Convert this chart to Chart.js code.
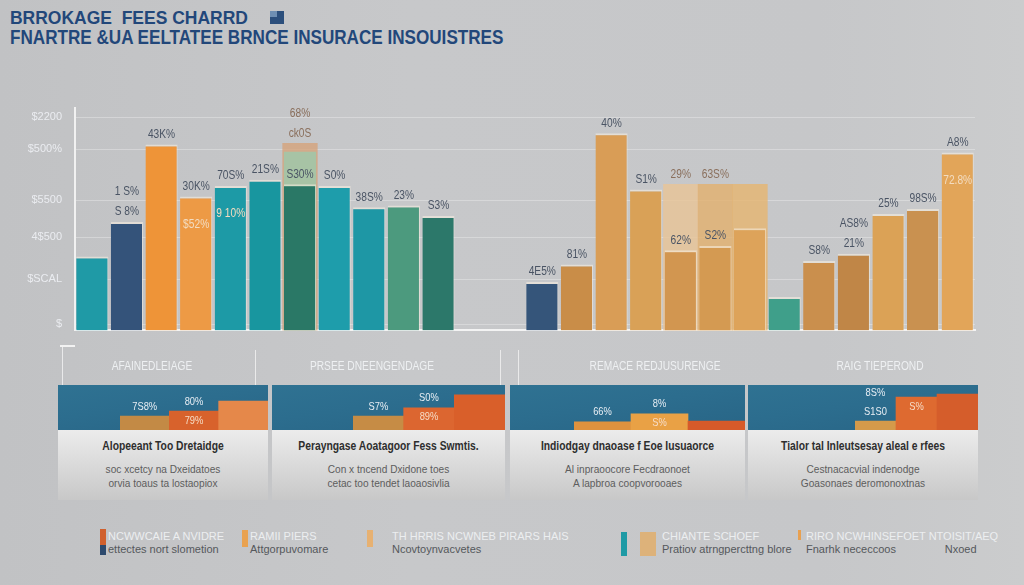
<!DOCTYPE html>
<html>
<head>
<meta charset="utf-8">
<script src="https://cdn.jsdelivr.net/npm/chart.js@4.4.0/dist/chart.umd.min.js"></script>
<style>
body{margin:0;width:1024px;height:585px;overflow:hidden;position:relative;
  background:linear-gradient(90deg,#c1c2c4 0%,#c7c8ca 40%,#c6c7c9 80%,#cbcccd 100%);
  font-family:"Liberation Sans",Arial,sans-serif}
.abs{position:absolute}
.ttl{left:10px;color:#22477a;white-space:nowrap;transform-origin:left top;font-weight:bold}
.vline{position:absolute;width:1px;background:rgba(240,240,240,.85)}
.sect{position:absolute;top:359px;color:#eef0f2;font-size:12px;white-space:nowrap;transform:translateX(-50%) scaleX(.85)}
.panel{position:absolute;top:385px;height:115px;background:linear-gradient(#eeeeee 40px,#e4e4e4 60px,#c8c8c8 115px)}
.phead{position:absolute;left:0;right:0;top:0;height:45px;background:linear-gradient(172deg,#2f7292 0%,#2c6d8e 45%,#286586 100%)}
.pbody{position:absolute;left:0;right:0;top:54px;text-align:center}
.pbody b{display:block;font-size:12px;color:#2e2e2e;margin-bottom:9px;transform:scaleX(.86)}
.pbody span{display:block;font-size:11.5px;color:#5d5d5d;line-height:14px;transform:scaleX(.88)}
.lg{position:absolute;font-size:11px;white-space:nowrap}
.lg .a{color:#eceef0}
.lg .b{color:#55585c;margin-top:1px}
</style>
</head>
<body>
<div class="abs ttl" style="top:7px;font-size:19px;transform:scaleX(.92)">BRROKAGE&nbsp; FEES CHARRD</div>
<div class="abs" style="left:270px;top:11px;width:14px;height:13px;background:#2c4f7c"></div>
<div class="abs" style="left:270px;top:11px;width:7px;height:6px;background:#6f8fb3"></div>
<div class="abs ttl" style="top:26px;font-size:20px;transform:scaleX(.855)">FNARTRE &amp;UA EELTATEE BRNCE INSURACE INSOUISTRES</div>

<canvas id="mainChart" class="abs" width="1000" height="262" style="left:0;top:88px"></canvas>

<div class="vline" style="left:62px;top:345px;height:40px"></div>
<div class="vline" style="left:255px;top:350px;height:35px"></div>
<div class="vline" style="left:500px;top:350px;height:35px"></div>
<div class="vline" style="left:518px;top:350px;height:35px"></div>
<div class="abs" style="left:60px;top:345px;width:15px;height:2px;background:#f2f2f2"></div>
<div class="sect" style="left:152px">AFAINEDLEIAGE</div>
<div class="sect" style="left:372px">PRSEE DNEENGENDAGE</div>
<div class="sect" style="left:655px">REMACE REDJUSURENGE</div>
<div class="sect" style="left:880px">RAIG TIEPEROND</div>

<div id="panels"></div>
<div id="legend"></div>

<script>
// main chart data
const slots = ['A1','A2','A3','A4','A5','A6','A7','A8','A9','A10','A11','','',
  'B1','B2','B3','B4','B5','B6','B7','B8','B9','B10','B11','B12','B13'];
const feeValues = [33.2,48.6,83.4,60.1,64.8,67.6,65.6,64.8,55.3,56.1,51.4,null,null,
  21.7,29.6,88.5,63.2,36.0,37.9,45.8,15.0,31.2,34.4,52.2,54.5,79.8];
const feeColors = ['#1f9aa6','#34537a','#ee9438','#ed9a45','#1d9aa6','#18969f','#2a7866','#1e9dab','#1e97a5','#4c9a7e','#2c786a',null,null,
  '#35557a','#c98d48','#d99d56','#d9a157','#d29650','#d49a52','#dda35a','#3f9f8a','#ca8f4d','#c08647','#dba256','#c99150','#e2a559'];
const backValues = [null,null,null,null,null,null,84.0,null,null,null,null,null,null,
  null,null,null,null,65.6,65.6,65.6,null,null,null,null,null,null];
const backValues2 = [null,null,null,null,null,null,80.2,null,null,null,null,null,null,
  null,null,null,null,null,null,null,null,null,null,null,null,null];
const topLabels = ['',['1 S%','S 8%'],'43K%','30K%','70S%','21S%','S30%','S0%','38S%','23%','S3%','','',
  '4E5%','81%','40%','S1%','62%','S2%','','','S8%',['AS8%','21%'],'25%','98S%','A8%'];
const backLabels = ['','','','','','',['68%','ck0S'],'','','','','','',
  '','','','','29%','63S%','','','','','','',''];
const innerLabels = ['','','','$52%','9 10%','','','','','','','','',
  '','','','','','','','','','','','','72.8%'];
const tickValues = [2.8,22.9,41.9,58.5,81.4,95.7];
const tickLabels = ['$','$SCAL','4$500','$5500','$500%','$2200'];

// small panels
const panelTitles = ['Alopeeant Too Dretaidge','Perayngase Aoatagoor Fess Swmtis.','Indiodgay dnaoase f Eoe Iusuaorce','Tialor tal Inleutsesay aleal e rfees'];
const panelLines = [['soc xcetcy na Dxeidatoes','orvia toaus ta lostaopiox'],
  ['Con x tncend Dxidone toes','cetac too tendet laoaosivlia'],
  ['Al inpraoocore Fecdraonoet','A lapbroa coopvorooaes'],
  ['Cestnacacvial indenodge','Goasonaes deromonoxtnas']];
const panelValues = [[31,42,64],[31,49,78],[18,36,20],[20,73,80]];
const panelColors = [['#c38a45','#d8622c','#e5884a'],['#c68c45','#dc6630','#d95f2a'],['#df923e','#e9a145','#d65a2a'],['#d49a4a','#de6a30','#d55d2b']];
const panelTop = [['7S8%','80%',''],['S7%','S0%',''],['66%','8%',''],[['8S%','S1S0'],'','']];
const panelInner = [['','79%',''],['','89%',''],['','S%',''],['','S%','']];

// legend
const legendNames = ['NCWWCAIE A NVIDRE','RAMII PIERS','TH HRRIS NCWNEB PIRARS HAIS','CHIANTE SCHOEF','RIRO NCWHINSEFOET NTOISIT/AEQ'];
const legendNotes = ['ettectes nort slometion','Attgorpuvomare','Ncovtoynvacvetes','Pratiov atrngpercttng blore','Fnarhk nececcoos \u00a0\u00a0\u00a0\u00a0\u00a0\u00a0\u00a0\u00a0\u00a0\u00a0\u00a0\u00a0\u00a0\u00a0 Nxoed'];

function textPlugin(tops, inners, backs, topColor, innerColor, size, innerGap){
  return {
    id:'barText',
    afterDatasetsDraw(chart){
      const c = chart.ctx;
      c.save();
      c.font = size + 'px "Liberation Sans",sans-serif';
      c.textAlign = 'center';
      c.textBaseline = 'bottom';
      const drawLines = (txt, x, y, col) => {
        const lines = Array.isArray(txt) ? txt : [txt];
        c.fillStyle = col;
        lines.slice().reverse().forEach((t, k) => {
          c.save(); c.translate(x, y - k * (size + 8)); c.scale(0.85, 1);
          c.fillText(t, 0, 0); c.restore();
        });
      };
      const m0 = chart.getDatasetMeta(0);
      m0.data.forEach((bar, i) => {
        if (tops[i]) drawLines(tops[i], bar.x, bar.y - 4, topColor);
        if (inners[i]) drawLines(inners[i], bar.x, bar.y + innerGap, innerColor);
      });
      if (backs) {
        const m1 = chart.getDatasetMeta(1);
        m1.data.forEach((bar, i) => { if (backs[i]) drawLines(backs[i], bar.x, bar.y - 4, '#8a6f5c'); });
      }
      c.restore();
    }
  };
}

new Chart(document.getElementById('mainChart').getContext('2d'), {
  type: 'bar',
  data: {
    labels: slots,
    datasets: [
      {label:'Fees', data: feeValues, backgroundColor: feeColors, grouped:false, order:1,
       barPercentage:0.93, categoryPercentage:1, borderColor:'rgba(250,240,225,0.55)', borderWidth:{top:2,left:0,right:1,bottom:0}},
      {label:'Back', data: backValues, backgroundColor: ['rgba(0,0,0,0)'].concat(Array(5).fill(null), ['rgba(214,160,118,0.75)'], Array(10).fill(null), ['rgba(232,196,150,0.8)','rgba(225,178,115,0.85)','rgba(228,182,118,0.85)']),
       grouped:false, order:3, barPercentage:1, categoryPercentage:1},
      {label:'Back2', data: backValues2, backgroundColor:'rgba(160,200,170,0.85)', grouped:false, order:2, barPercentage:0.93, categoryPercentage:1}
    ]
  },
  options: {
    responsive:false, animation:false,
    layout:{padding:{top:2,right:25,bottom:7,left:0}},
    plugins:{legend:{display:false}, tooltip:{enabled:false}},
    scales:{
      x:{grid:{display:false}, ticks:{display:false}, border:{color:'#f3f3f3', width:2}},
      y:{min:0, max:100,
         afterFit(s){ s.width = 75; },
         afterBuildTicks(s){ s.ticks = tickValues.map(v => ({value:v})); },
         ticks:{callback:(v, i) => tickLabels[i], color:'rgba(236,238,242,0.95)', padding:13,
                font:{size:11}},
         grid:{color:'rgba(245,245,245,0.35)', drawTicks:false},
         border:{color:'#f1f1f1', width:2}}
    }
  },
  plugins:[textPlugin(topLabels, innerLabels, backLabels, '#4a5464', '#f3dcc0', 12, 34)]
});

// panels with mini bar charts
const panelBox = [[58,210,62,148],[272,233,81,152],[510,235,64,171],[748,230,107,123]];
const panelsDiv = document.getElementById('panels');
panelBox.forEach((pb, p) => {
  const d = document.createElement('div');
  d.className = 'panel';
  d.style.left = pb[0] + 'px'; d.style.width = pb[1] + 'px';
  d.innerHTML = '<div class="phead"></div><div class="pbody"><b>' + panelTitles[p] + '</b><span>' +
    panelLines[p][0] + '</span><span>' + panelLines[p][1] + '</span></div>';
  const cv = document.createElement('canvas');
  cv.width = pb[3]; cv.height = 45;
  cv.style.position = 'absolute'; cv.style.left = pb[2] + 'px'; cv.style.top = '0px';
  d.appendChild(cv);
  panelsDiv.appendChild(d);
  new Chart(cv.getContext('2d'), {
    type:'bar',
    data:{labels:['a','b','c'], datasets:[{data:panelValues[p], backgroundColor:panelColors[p], barPercentage:1, categoryPercentage:1}]},
    options:{responsive:false, animation:false, layout:{padding:0},
      plugins:{legend:{display:false}, tooltip:{enabled:false}},
      scales:{x:{display:false}, y:{display:false, min:0, max:100}}},
    plugins:[textPlugin(panelTop[p], panelInner[p], null, '#e8eef4', '#f6dcc6', 11, 15)]
  });
});

// legend
const legendX = [100, 242, 367, 621, 798];
const legendSwatch = [['#d0602e','#2d4a6e'], ['#e9a250'], ['#e7b172'], ['#1e9aa5','#ddb27a'], ['#e8a050']];
const legendDiv = document.getElementById('legend');
legendNames.forEach((name, i) => {
  const x = legendX[i];
  const sw = legendSwatch[i];
  let html = '';
  if (i === 0) {
    html += '<div class="abs" style="left:' + x + 'px;top:529px;width:6px;height:16px;background:' + sw[0] + '"></div>';
    html += '<div class="abs" style="left:' + x + 'px;top:545px;width:6px;height:10px;background:' + sw[1] + '"></div>';
  } else if (i === 3) {
    html += '<div class="abs" style="left:' + x + 'px;top:532px;width:6px;height:24px;background:' + sw[0] + '"></div>';
    html += '<div class="abs" style="left:' + (x + 19) + 'px;top:532px;width:16px;height:24px;background:' + sw[1] + '"></div>';
  } else {
    html += '<div class="abs" style="left:' + x + 'px;top:530px;width:' + (i === 4 ? 3 : 6) + 'px;height:' + (i === 4 ? 10 : 17) + 'px;background:' + sw[0] + '"></div>';
  }
  const tx = [108, 250, 392, 662, 806][i];
  html += '<div class="lg" style="left:' + tx + 'px;top:530px"><div class="a">' + name + '</div><div class="b">' + legendNotes[i] + '</div></div>';
  legendDiv.insertAdjacentHTML('beforeend', html);
});
</script>
</body>
</html>
